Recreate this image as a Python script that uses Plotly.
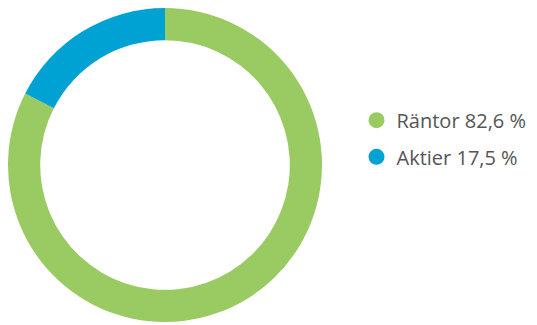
import plotly.graph_objects as go

labels = ["Räntor", "Aktier"]
values = [82.6, 17.5]
value_text = ["82,6 %", "17,5 %"]
colors = ["#9aca62", "#00a1d3"]

fig = go.Figure()
fig.add_trace(go.Pie(
    labels=labels, values=values, hole=0.795, sort=False, direction="clockwise",
    marker=dict(colors=colors), textinfo="none", showlegend=False,
    domain=dict(x=[0, 314 / 537], y=[11 / 325, 1]),
))

# one legend per entry so the rows can be spaced like the original
legend_ids = ["legend", "legend2"]
legend_y = [0.655, 0.542]
for name, txt, c, lg in zip(labels, value_text, colors, legend_ids):
    fig.add_trace(go.Scatter(x=[None], y=[None], mode="markers", name=f"{name} {txt}",
                             legend=lg, marker=dict(color=c, size=16, symbol="circle")))

legend_style = dict(x=0.649, xanchor="left", yanchor="middle", itemwidth=30,
                    bgcolor="rgba(0,0,0,0)")
fig.update_layout(
    width=537, height=325, margin=dict(l=0, r=0, t=0, b=0),
    paper_bgcolor="white", plot_bgcolor="white",
    xaxis=dict(visible=False), yaxis=dict(visible=False),
    font=dict(family="Open Sans, sans-serif", size=20, color="#555555"),
    legend=dict(y=legend_y[0], **legend_style),
    legend2=dict(y=legend_y[1], **legend_style),
)
fig.write_html("out.html")
